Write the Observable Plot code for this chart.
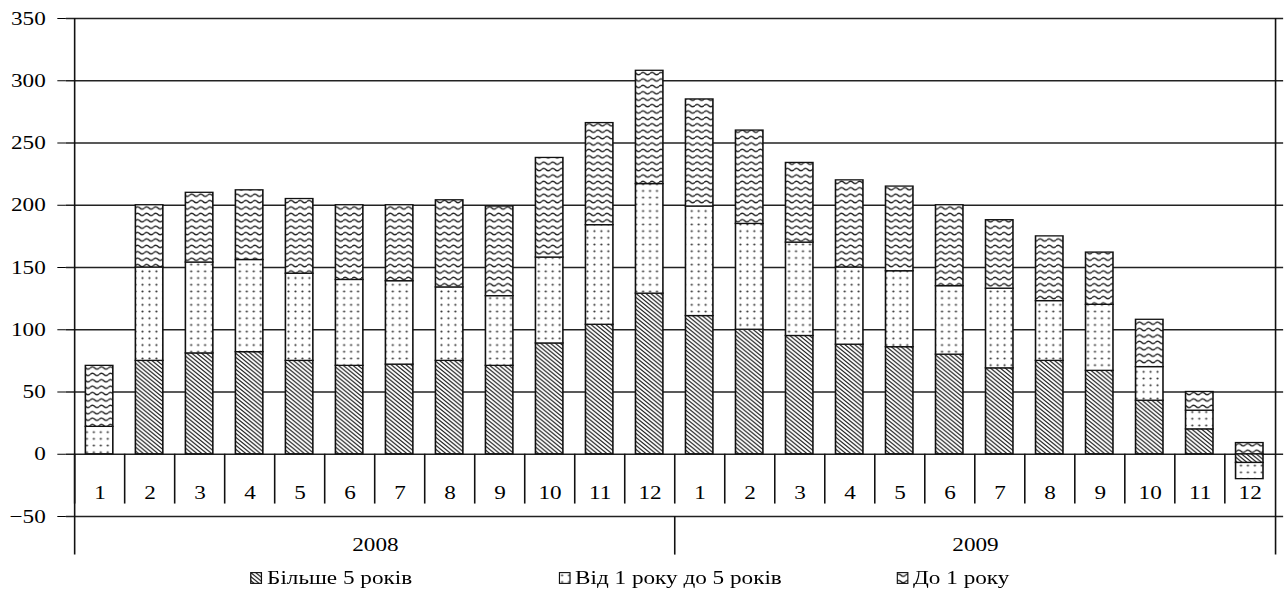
<!DOCTYPE html>
<html>
<head>
<meta charset="utf-8">
<script src="https://cdn.jsdelivr.net/npm/d3@7"></script>
<script src="https://cdn.jsdelivr.net/npm/@observablehq/plot@0.6"></script>
<style>
  html, body { margin: 0; padding: 0; background: #fff; overflow: hidden; }
  #wrap { width: 1056px; transform: scaleX(1.2197); transform-origin: 0 0; font-family: "Liberation Serif", serif; }
  #legend { position: relative; height: 35px; font-size: 19px; color: #000; }
  .item { position: absolute; top: 6px; height: 20px; line-height: 20px; display: flex; align-items: center; white-space: nowrap; }
  .item svg { margin-right: 4px; }
</style>
</head>
<body>
<svg width="0" height="0" style="position:absolute">
  <defs>
    <pattern id="p-diag" patternUnits="userSpaceOnUse" width="4" height="4">
      <rect width="4" height="4" fill="#fff"/>
      <path d="M-1,-1 L5,5 M-1,3 L1,5 M3,-1 L5,1" stroke="#222" stroke-width="1.1"/>
    </pattern>
    <pattern id="p-dots" patternUnits="userSpaceOnUse" width="5.7" height="6.7">
      <rect width="5.7" height="6.7" fill="#fff"/>
      <circle cx="2.85" cy="3.35" r="0.9" fill="#333"/>
    </pattern>
    <pattern id="p-wave" patternUnits="userSpaceOnUse" width="7.4" height="6.4">
      <rect width="7.4" height="6.4" fill="#fff"/>
      <path d="M0,3.2 Q1.85,0.9 3.7,3.2 T7.4,3.2" fill="none" stroke="#222" stroke-width="1.2"/>
    </pattern>
  </defs>
</svg>
<div id="wrap">
  <div id="chart"></div>
  <div id="legend"></div>
</div>
<script>
// ---- data ----
const series = ["Більше 5 років", "Від 1 року до 5 років", "До 1 року"];
const years = ["2008", "2009"];
const months = [1, 2, 3, 4, 5, 6, 7, 8, 9, 10, 11, 12];
const over5 = [0, 75, 81, 82, 75, 71, 72, 75, 71, 89, 104, 129,
               111, 100, 95, 88, 86, 80, 69, 75, 67, 43, 20, -7];
const from1to5 = [22, 75, 73, 74, 70, 69, 67, 59, 56, 69, 80, 88,
                  88, 85, 75, 62, 61, 55, 64, 48, 53, 27, 15, -13];
const under1 = [49, 50, 56, 56, 60, 60, 61, 70, 72, 80, 82, 91,
                86, 75, 64, 70, 68, 65, 55, 52, 42, 38, 15, 9];
const yTicks = [-50, 0, 50, 100, 150, 200, 250, 300, 350];
const patterns = ["url(#p-diag)", "url(#p-dots)", "url(#p-wave)"];

// ---- build table ----
const keys = years.flatMap(y => months.map(m => `${y}-${m}`));
const valuesBySeries = [over5, from1to5, under1];
const data = keys.flatMap((k, i) => series.map((s, j) => ({key: k, series: s, value: valuesBySeries[j][i]})));

const W = 1056, ML = 54, MR = 4;
const bw = (W - ML - MR) / keys.length;
const ink = "#111";
const serif = '"Liberation Serif", serif';

const chart = Plot.plot({
  width: W,
  height: 562,
  marginLeft: ML,
  marginRight: MR,
  marginTop: 18,
  marginBottom: 46,
  style: {fontFamily: serif, fontSize: "19px", color: "#000", background: "#fff", overflow: "visible"},
  x: {type: "band", domain: keys, padding: 0, axis: null},
  y: {domain: [-50, 350], ticks: yTicks, tickSize: 7, tickPadding: 10, label: null},
  color: {domain: series, range: patterns},
  marks: [
    Plot.ruleY(yTicks, {stroke: "#222", strokeWidth: 1.3}),
    Plot.barY(data, Plot.stackY({x: "key", y: "value", fill: "series", order: series,
      stroke: ink, strokeWidth: 1.3, insetLeft: 9, insetRight: 9.5})),
    // month cell separators
    Plot.ruleX(keys, {x: d => d, dx: -bw / 2, y1: () => 0, y2: () => -40, stroke: ink, strokeWidth: 1.3}),
    // month labels
    Plot.text(keys, {x: d => d, y: () => -31, text: d => d.split("-")[1], fill: "#000"}),
    // left and right borders
    Plot.ruleX([keys[0]], {x: d => d, dx: -bw / 2, y1: () => 350, y2: () => -81, stroke: ink, strokeWidth: 1.3}),
    Plot.ruleX([keys[keys.length - 1]], {x: d => d, dx: bw / 2, y1: () => 350, y2: () => -81, stroke: ink, strokeWidth: 1.3}),
    // year separator
    Plot.ruleX([keys[12]], {x: d => d, dx: -bw / 2, y1: () => -50, y2: () => -81, stroke: ink, strokeWidth: 1.3}),
    // year labels
    Plot.text(years, {x: y => `${y}-6`, dx: bw / 2, y: () => -73, text: y => y, fill: "#000"})
  ]
});
document.getElementById("chart").appendChild(chart);

// ---- legend ----
const legendX = [205, 457.5, 734.6];
const legend = document.getElementById("legend");
series.forEach((s, i) => {
  const item = document.createElement("div");
  item.className = "item";
  item.style.left = legendX[i] + "px";
  item.innerHTML = `<svg width="10" height="12"><rect x="0.6" y="0.6" width="8.8" height="10.8" fill="${patterns[i]}" stroke="#111" stroke-width="1.1"/></svg><span>${s}</span>`;
  legend.appendChild(item);
});
</script>
</body>
</html>
